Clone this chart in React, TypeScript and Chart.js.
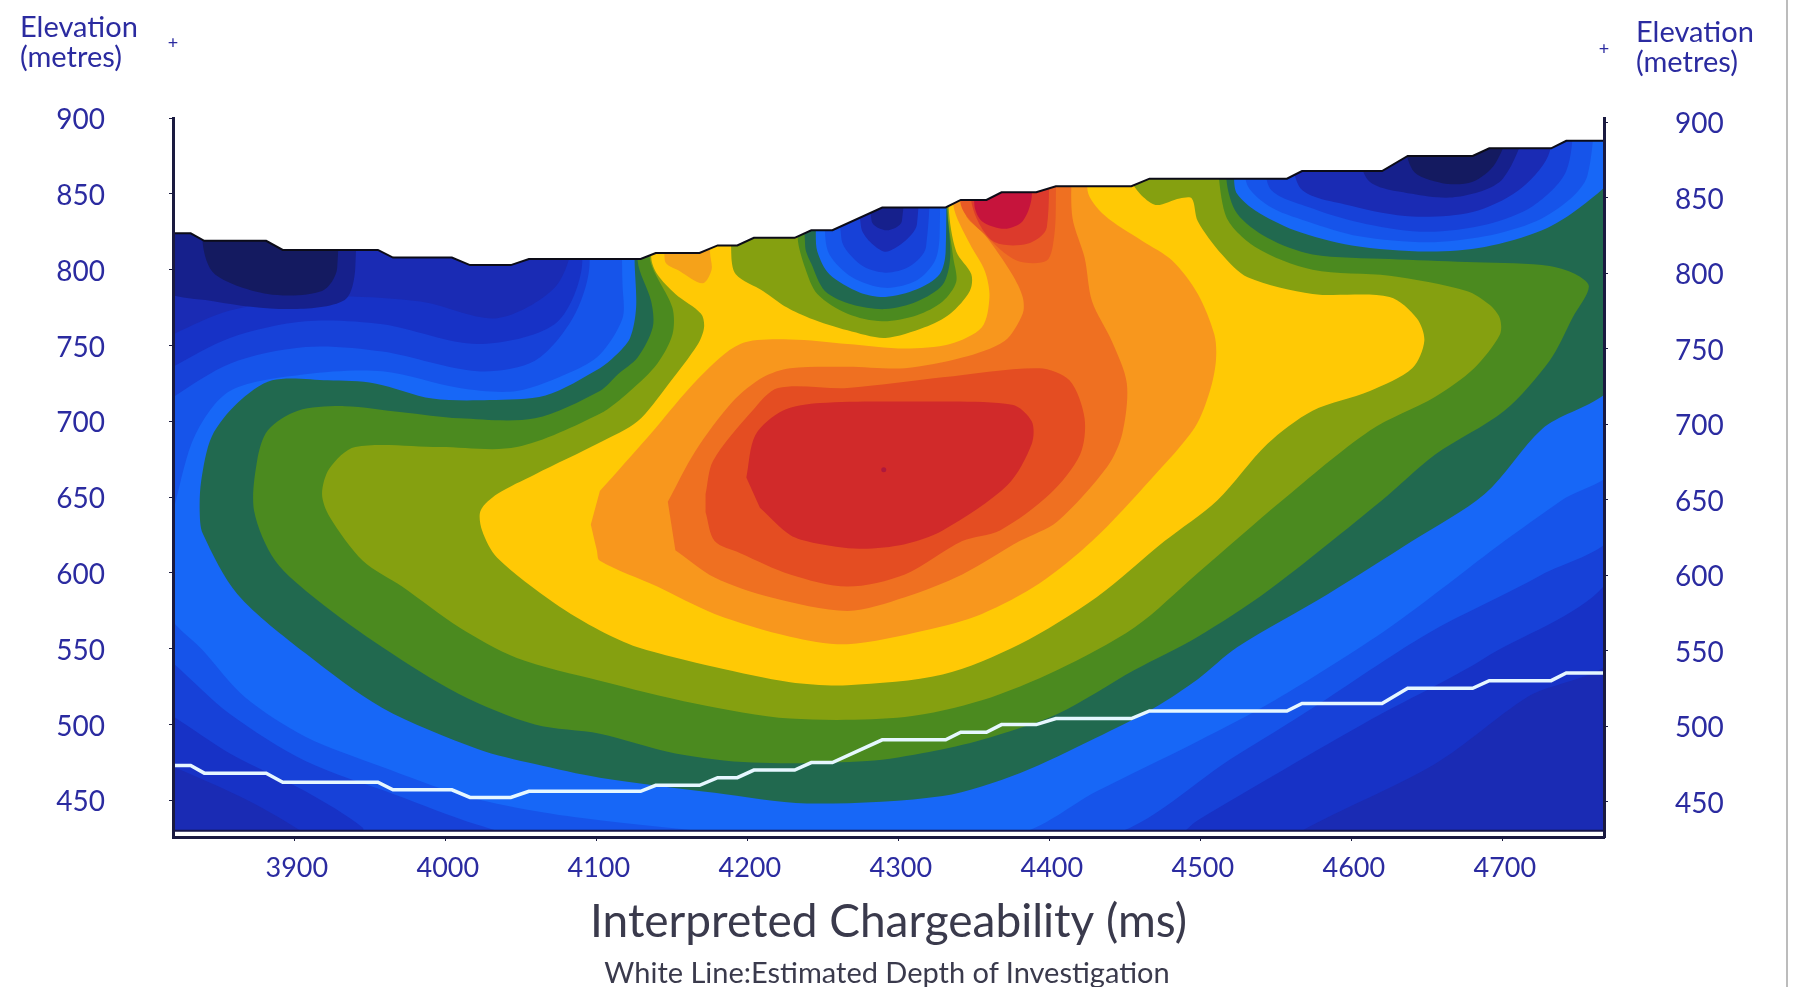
import React, { useEffect, useRef } from "react";
import { Chart, registerables } from "chart.js";

Chart.register(...registerables);

type P = [number, number];

const xTickValues = [3900, 4000, 4100, 4200, 4300, 4400, 4500, 4600, 4700];
const yTickValues = [450, 500, 550, 600, 650, 700, 750, 800, 850, 900];

const terrain: P[] = [[3819,824],[3831,824],[3840,819],[3881,819],[3892,813],[3955,813],[3965,808],[4004,808],[4016,803],[4043,803],[4055,807],[4129,807],[4139,811],[4168,811],[4180,816],[4193,816],[4204,821],[4231,821],[4242,826],[4256,826],[4289,841],[4331,841],[4341,846],[4358,846],[4368,851],[4391,851],[4404,855],[4454,855],[4466,860],[4557,860],[4567,865],[4620,865],[4637,875],[4680,875],[4691,880],[4732,880],[4742,885],[4767,885]];
const depthLine: P[] = [[3819,473],[3831,473],[3840,468],[3881,468],[3892,462],[3955,462],[3965,457],[4004,457],[4016,452],[4043,452],[4055,456],[4129,456],[4139,460],[4168,460],[4180,465],[4193,465],[4204,470],[4231,470],[4242,475],[4256,475],[4289,490],[4331,490],[4341,495],[4358,495],[4368,500],[4391,500],[4404,504],[4454,504],[4466,509],[4557,509],[4567,514],[4620,514],[4637,524],[4680,524],[4691,529],[4732,529],[4742,534],[4767,534]];
const terrainMask: P[] = [...terrain, [4775,885],[4775,910],[3810,910],[3810,824]];
const bottomStrip: P[] = [[3810,430],[4775,430],[4775,420],[3810,420]];
const bottomEdge: P[] = [[3819,430],[4767,430]];

const base: P[] = [[3810,420],[4775,420],[4775,910],[3810,910]];
const blue2: P[] = [[3810,753],[3857,773],[3920,782],[3983,779],[4034,768],[4072,788],[4084,819],[4084,910],[4775,910],[4775,549],[4716,518],[4655,474],[4567,430],[4567,425],[3907,425],[3907,428],[3869,450],[3820,472],[3810,476]];
const blue3: P[] = [[3810,731],[3857,755],[3907,766],[3958,764],[4021,751],[4072,764],[4090,801],[4092,910],[4775,910],[4775,606],[4688,544],[4612,503],[4498,437],[4480,425],[3945,425],[3945,432],[3907,456],[3857,481],[3820,505],[3810,510]];
const blue4: P[] = [[3810,710],[3857,738],[3907,749],[3958,746],[4021,733],[4059,740],[4084,768],[4095,801],[4097,910],[4775,910],[4775,630],[4726,599],[4650,560],[4574,511],[4524,480],[4431,425],[4059,425],[4021,434],[3966,454],[3907,476],[3857,507],[3820,540],[3810,548]];
const blue5: P[] = [[4115,910],[4117,790],[4117,768],[4102,744],[4084,733],[4047,720],[4009,722],[3958,733],[3907,731],[3857,720],[3834,691],[3821,647],[3815,620],[3815,575],[3839,549],[3867,518],[3907,492],[3958,472],[4009,454],[4059,443],[4102,437],[4200,428],[4377,428],[4431,456],[4498,489],[4549,516],[4625,564],[4701,621],[4739,648],[4775,672],[4775,910]];
const navy1: P[] = [[3810,910],[3810,790],[3847,779],[3897,774],[3933,780],[3940,801],[3940,910]];
const navy2: P[] = [[3835,910],[3839,817],[3847,797],[3882,784],[3918,786],[3928,801],[3928,910]];

const green1: P[] = [[4125,910],[4125,806],[4126,775],[4122,755],[4112,743],[4102,735],[4066,717],[4029,714],[3991,715],[3953,725],[3922,727],[3885,727],[3862,712],[3845,690],[3838,661],[3837,640],[3839,626],[3862,586],[3907,547],[3958,511],[4021,484],[4059,474],[4102,465],[4178,455],[4239,448],[4329,453],[4380,468],[4430,491],[4469,511],[4498,530],[4524,551],[4584,586],[4640,621],[4688,652],[4726,695],[4775,728],[4775,910]];
const green2: P[] = [[4127,910],[4127,806],[4136,779],[4137,762],[4127,742],[4114,731],[4102,720],[4059,702],[4009,702],[3971,706],[3933,710],[3902,707],[3882,694],[3875,674],[3873,641],[3887,608],[3915,582],[3958,551],[4009,520],[4059,500],[4102,494],[4152,481],[4203,475],[4279,476],[4320,482],[4355,490],[4405,507],[4456,536],[4498,558],[4544,588],[4620,648],[4655,678],[4701,707],[4731,740],[4746,768],[4757,789],[4746,798],[4726,803],[4676,805],[4625,807],[4574,810],[4544,821],[4524,837],[4517,859],[4517,910]];
const olive: P[] = [[4132,910],[4135,808],[4150,775],[4150,757],[4140,738],[4122,720],[4102,705],[4047,683],[3996,683],[3940,683],[3923,669],[3918,652],[3923,637],[3945,608],[3971,591],[4009,564],[4047,544],[4102,529],[4165,514],[4228,504],[4304,505],[4355,516],[4405,536],[4456,564],[4498,600],[4554,648],[4612,694],[4655,716],[4681,735],[4698,757],[4698,768],[4691,777],[4676,786],[4625,796],[4574,800],[4536,815],[4516,837],[4509,910]];
const yellow: P[] = [[4136,910],[4136,808],[4140,797],[4152,784],[4169,771],[4171,762],[4167,751],[4147,724],[4127,700],[4102,686],[4059,665],[4034,652],[4023,641],[4024,628],[4034,610],[4072,580],[4102,562],[4127,551],[4178,538],[4228,528],[4266,526],[4329,533],[4380,553],[4431,584],[4476,621],[4511,648],[4544,685],[4574,707],[4612,720],[4640,735],[4648,753],[4643,768],[4625,782],[4574,784],[4531,795],[4514,810],[4498,832],[4494,847],[4486,847],[4469,843],[4453,861],[4453,910]];
const orange1: P[] = [[4096,632],[4100,615],[4102,608],[4140,591],[4178,573],[4228,558],[4266,553],[4317,562],[4355,573],[4393,593],[4428,621],[4468,663],[4496,696],[4506,720],[4510,740],[4509,757],[4498,784],[4481,806],[4461,819],[4436,836],[4425,852],[4425,910],[4336,910],[4336,843],[4347,817],[4357,799],[4360,782],[4355,762],[4334,751],[4304,748],[4266,751],[4228,754],[4195,751],[4168,729],[4135,691],[4102,654]];
const orangeBlob: P[] = [[4145,910],[4145,806],[4155,799],[4170,791],[4176,800],[4175,811],[4176,910]];
const orange2: P[] = [[4152,615],[4178,597],[4215,584],[4266,575],[4304,584],[4342,599],[4380,621],[4405,634],[4438,670],[4448,692],[4451,725],[4441,753],[4428,779],[4423,808],[4415,834],[4408,910],[4340,910],[4344,837],[4357,823],[4375,797],[4382,782],[4382,771],[4370,753],[4342,742],[4304,735],[4266,736],[4228,735],[4210,729],[4190,713],[4165,680],[4147,647]];
const orange3: P[] = [[4172,652],[4177,674],[4203,707],[4220,722],[4266,722],[4329,729],[4393,735],[4413,727],[4423,702],[4420,678],[4400,652],[4367,628],[4342,621],[4304,599],[4266,591],[4228,599],[4195,613],[4178,621],[4172,640]];
const red: P[] = [[4199,663],[4205,691],[4223,707],[4248,712],[4304,713],[4375,711],[4388,700],[4388,685],[4372,658],[4329,628],[4304,619],[4274,616],[4243,620],[4228,625],[4208,643]];
const redDot: P[] = [[4290,668]];
const topRed1: P[] = [[4340,910],[4341,843],[4357,823],[4378,806],[4398,806],[4403,823],[4404,848],[4404,910]];
const topRed2: P[] = [[4348,910],[4348,845],[4362,819],[4385,817],[4398,828],[4398,910]];
const topRed3: P[] = [[4350,910],[4350,843],[4355,832],[4370,827],[4382,832],[4388,848],[4388,910]];

const midOlive: P[] = [[4189,910],[4189,811],[4192,797],[4210,786],[4226,775],[4241,768],[4266,760],[4291,755],[4317,762],[4334,771],[4347,786],[4348,797],[4338,812],[4333,841],[4333,910]];
const midGreen2: P[] = [[4233,910],[4233,821],[4238,801],[4246,784],[4266,771],[4289,766],[4312,770],[4329,779],[4338,792],[4336,808],[4332,841],[4332,910]];
const midGreen1: P[] = [[4236,910],[4238,815],[4242,804],[4251,786],[4269,777],[4291,774],[4312,779],[4329,790],[4334,808],[4332,841],[4332,910]];
const midBlue5: P[] = [[4245,910],[4245,826],[4246,812],[4254,797],[4274,785],[4291,782],[4312,787],[4327,797],[4331,812],[4331,910]];
const midBlue4: P[] = [[4251,910],[4251,827],[4254,810],[4269,795],[4291,788],[4312,793],[4324,806],[4327,823],[4327,910]];
const midBlue3: P[] = [[4262,910],[4262,820],[4275,803],[4291,798],[4307,802],[4318,815],[4322,910]];
const midBlue2: P[] = [[4275,910],[4275,828],[4290,812],[4303,818],[4312,830],[4314,910]];
const midNavy: P[] = [[4280,910],[4282,832],[4292,826],[4302,832],[4305,910]];

const rightBlue5: P[] = [[4522,910],[4522,860],[4524,850],[4536,839],[4562,826],[4600,816],[4650,812],[4688,815],[4726,826],[4751,841],[4775,865],[4775,910]];
const rightBlue4: P[] = [[4530,910],[4530,858],[4545,842],[4570,832],[4605,822],[4650,818],[4688,822],[4722,832],[4745,847],[4756,862],[4762,910]];
const rightBlue3: P[] = [[4545,910],[4545,855],[4575,840],[4610,830],[4650,825],[4690,830],[4720,842],[4742,865],[4748,910]];
const rightBlue2: P[] = [[4560,910],[4565,855],[4600,842],[4640,835],[4680,838],[4710,852],[4730,875],[4735,910]];
const rightNavy1: P[] = [[4600,910],[4610,860],[4640,850],[4670,848],[4700,860],[4722,910]];
const rightNavy2: P[] = [[4630,910],[4640,866],[4660,857],[4680,858],[4695,870],[4712,910]];

const layers: [P[], string][] = [
  [base, "#1a2bb4"], [blue2, "#1732c6"], [blue3, "#1741d8"], [blue4, "#1654ea"], [blue5, "#1767f7"],
  [navy1, "#16208c"], [navy2, "#141a60"],
  [green1, "#21694f"], [green2, "#4b8a1f"], [olive, "#85a010"], [yellow, "#ffc905"],
  [orange1, "#f8971d"], [orangeBlob, "#f5a21a"], [orange2, "#ef7021"], [orange3, "#e44d22"], [red, "#d12a2a"],
  [topRed1, "#e85a25"], [topRed2, "#dc3a2c"], [topRed3, "#c6143c"],
  [midOlive, "#85a010"], [midGreen2, "#4b8a1f"], [midGreen1, "#21694f"], [midBlue5, "#1767f7"], [midBlue4, "#1654ea"], [midBlue3, "#1741d8"], [midBlue2, "#1a2bb4"], [midNavy, "#16208c"],
  [rightBlue5, "#1767f7"], [rightBlue4, "#1654ea"], [rightBlue3, "#1741d8"], [rightBlue2, "#1a2bb4"], [rightNavy1, "#16208c"], [rightNavy2, "#141a60"],
  [terrainMask, "#ffffff"], [bottomStrip, "#ffffff"],
];
const straightLayers = [base, terrainMask, bottomStrip];

const toPts = (a: P[]) => a.map(([x, y]) => ({ x, y }));
const TEXT = "#2b2ba0";
const FONT = "Lato";

function Label(props: { x: number; y: number; size: number; color?: string; text: string; center?: boolean }) {
  return (
    <div style={{ position: "absolute", left: props.x, top: props.y, transform: props.center ? "translate(-50%,-50%)" : "translateY(-50%)", whiteSpace: "nowrap", font: `${props.size}px ${FONT}`, color: props.color || TEXT, lineHeight: 1 }}>
      {props.text}
    </div>
  );
}

export default function App() {
  const ref = useRef<HTMLCanvasElement | null>(null);
  useEffect(() => {
    const total = layers.length + 5;
    const datasets: any[] = layers.map(([pts, color], i) => ({
      type: "scatter", data: toPts(pts), showLine: true, fill: "shape", backgroundColor: color,
      borderWidth: 0, pointRadius: 0, tension: straightLayers.includes(pts) ? 0 : 0.3, order: total - i,
    }));
    datasets.push({ type: "scatter", data: toPts(redDot), showLine: false, pointRadius: 2.5, pointBackgroundColor: "#b0183c", pointBorderWidth: 0, order: 4 });
    datasets.push({ type: "scatter", data: toPts(terrain), showLine: true, fill: false, borderColor: "#0c0c18", borderWidth: 2, pointRadius: 0, tension: 0, order: 3 });
    datasets.push({ type: "scatter", data: toPts(bottomEdge), showLine: true, fill: false, borderColor: "#15154a", borderWidth: 2, pointRadius: 0, tension: 0, order: 2 });
    datasets.push({ type: "scatter", data: toPts(depthLine), showLine: true, fill: false, borderColor: "#e6f7ff", borderWidth: 3.5, pointRadius: 0, tension: 0, order: 1 });
    const tickFont = { family: FONT, size: 28 };
    const gridCommon = { display: true, drawOnChartArea: false, drawTicks: true, tickLength: 4, color: "#1a1a40", z: 2 };
    const chart = new Chart(ref.current as HTMLCanvasElement, {
      data: { datasets },
      options: {
        animation: false, responsive: false, maintainAspectRatio: false,
        layout: { padding: { top: 118, bottom: 32, left: 0, right: 0 } },
        plugins: { legend: { display: false }, tooltip: { enabled: false }, title: { display: false } },
        scales: {
          x: {
            type: "linear", min: 3819.3, max: 4767, grid: gridCommon,
            border: { display: true, color: "#1a1a40", width: 3, z: 2 },
            ticks: { font: { family: FONT, size: 27 }, color: TEXT, padding: 11, labelOffset: 2, maxRotation: 0, callback: (v: any) => String(v) },
            afterBuildTicks: (a: any) => { a.ticks = xTickValues.map((value) => ({ value })); },
            afterFit: (s: any) => { s.height = 118; },
            title: { display: true, text: "Interpreted Chargeability (ms)", font: { family: FONT, size: 46 }, color: "#3a3a4c", padding: { top: 0, bottom: 5 } },
          },
          y: {
            type: "linear", position: "left", min: 425.9, max: 900, grid: gridCommon,
            border: { display: true, color: "#1a1a40", width: 3, z: 2 },
            ticks: { font: tickFont, color: TEXT, padding: 64, labelOffset: 2, callback: (v: any) => String(v) },
            afterBuildTicks: (a: any) => { a.ticks = yTickValues.map((value) => ({ value })); },
            afterFit: (s: any) => { s.width = 173; },
          },
          y1: {
            type: "linear", position: "right", display: true, min: 426.6, max: 902.9, grid: gridCommon,
            border: { display: true, color: "#1a1a40", width: 3, z: 2 },
            ticks: { font: tickFont, color: TEXT, padding: 67, labelOffset: 2, callback: (v: any) => String(v) },
            afterBuildTicks: (a: any) => { a.ticks = yTickValues.map((value) => ({ value })); },
            afterFit: (s: any) => { s.width = 190; },
          },
        },
      },
    } as any);
    return () => chart.destroy();
  }, []);
  return (
    <div style={{ position: "fixed", left: 0, top: 0, width: 1794, height: 987, background: "#fff", overflow: "hidden" }}>
      <canvas ref={ref} width={1794} height={987} style={{ display: "block" }} />
      <Label x={20} y={25} size={29} text="Elevation" />
      <Label x={20} y={55} size={29} text="(metres)" />
      <Label x={1636} y={30} size={29} text="Elevation" />
      <Label x={1636} y={60} size={29} text="(metres)" />
      <Label x={173} y={42} size={18} text="+" center />
      <Label x={1604} y={48} size={18} text="+" center />
      <Label x={887} y={971} size={29} color="#3a3a4c" text="White Line:Estimated Depth of Investigation" center />
      <div style={{ position: "absolute", left: 1786, top: 0, width: 2, height: 987, background: "#bcbcbc" }} />
    </div>
  );
}
